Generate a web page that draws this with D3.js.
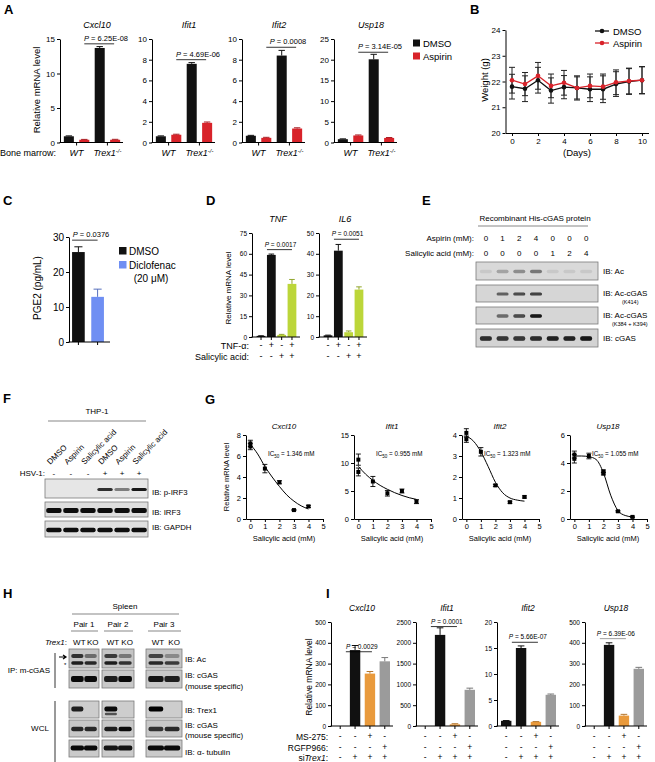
<!DOCTYPE html>
<html><head><meta charset="utf-8">
<script src="https://cdn.jsdelivr.net/npm/d3@7/dist/d3.min.js"></script>
<style>
html,body{margin:0;padding:0;background:#fff;}
svg{display:block;font-family:"Liberation Sans",Arial,Helvetica,sans-serif;}
</style></head>
<body><svg id="fig" width="655" height="762" viewBox="0 0 655 762"></svg>
<script>
// ================= DATA =================
// Panel A
const aGenes = ["Cxcl10", "Ifit1", "Ifit2", "Usp18"];
const aBarKeys = ["WT DMSO", "WT Aspirin", "Trex1 DMSO", "Trex1 Aspirin"];
const aCxcl10 = [0.9, 0.4, 13.7, 0.4];
const aCxcl10Err = [0.06, 0.05, 0.2, 0.06];
const aIfit1 = [0.6, 0.75, 7.6, 1.9];
const aIfit1Err = [0.04, 0.05, 0.12, 0.08];
const aIfit2 = [0.65, 0.45, 8.4, 1.35];
const aIfit2Err = [0.04, 0.05, 0.5, 0.07];
const aUsp18 = [0.8, 1.7, 20.1, 1.1];
const aUsp18Err = [0.08, 0.12, 1.2, 0.1];
const aYMax = [15, 10, 10, 25];
const aYStep = [5, 2, 2, 5];
const aPValues = ["6.25E-08", "4.69E-06", "0.0008", "3.14E-05"];
const aPLevel = [14.3, 8.0, 9.2, 21.8];
const aLegend = ["DMSO", "Aspirin"];

// Panel B
const bDays = [0, 1, 2, 3, 4, 5, 6, 7, 8, 9, 10];
const bDMSO = [21.8, 21.72, 22.05, 21.65, 21.78, 21.75, 21.7, 21.7, 21.9, 22.0, 22.05];
const bDMSOErr = [0.48, 0.5, 0.5, 0.49, 0.45, 0.43, 0.48, 0.52, 0.48, 0.5, 0.52];
const bAspirin = [22.05, 21.9, 22.22, 21.83, 21.95, 21.75, 21.83, 21.8, 21.97, 22.02, 22.05];
const bAspirinErr = [0.5, 0.45, 0.52, 0.46, 0.48, 0.47, 0.46, 0.49, 0.48, 0.5, 0.53];
const bYTicks = [20, 21, 22, 23, 24];
const bXTicks = [0, 2, 4, 6, 8, 10];

// Panel C
const cGroups = ["DMSO", "Diclofenac"];
const cPGE2 = [25.7, 12.9];
const cPGE2Err = [1.5, 2.2];

// Panel D
const dKeys = ["ctrl", "TNF", "SA", "TNF+SA"];
const dTNF = [0.8, 59.2, 1.5, 38.3];
const dTNFErr = [0.1, 0.6, 0.4, 3.2];
const dIL6 = [0.8, 41.5, 2.3, 22.8];
const dIL6Err = [0.1, 3.0, 0.6, 1.3];
const dTNFalpha = ["-", "+", "-", "+"];
const dSalicylic = ["-", "-", "+", "+"];
const dPValues = ["0.0017", "0.0051"];
const dPLevel = [63, 47];

// Panel E
const eAspirin = [0, 1, 2, 4, 0, 0, 0];
const eSalicylic = [0, 0, 0, 0, 1, 2, 4];
const eAc = [0.08, 0.25, 0.35, 0.45, 0.08, 0.08, 0.08];
const eK414 = [0, 0.55, 0.7, 0.75, 0, 0, 0];
const eK384 = [0, 0.5, 0.7, 0.95, 0, 0, 0];
const eCgas = [0.85, 0.8, 0.8, 0.85, 0.9, 0.9, 0.95];

// Panel F
const fLanes = ["DMSO", "Aspirin", "Salicylic acid", "DMSO", "Aspirin", "Salicylic acid"];
const fHSV = ["-", "-", "-", "+", "+", "+"];
const fPIRF3 = [0, 0, 0, 0.85, 0.45, 0.95];
const fIRF3 = [1, 1, 1, 1, 1, 1];
const fGAPDH = [1, 1, 1, 1, 1, 1];

// Panel G
const gGenes = ["Cxcl10", "Ifit1", "Ifit2", "Usp18"];
const gIC50 = ["1.346", "0.955", "1.323", "1.055"];
const gYMax = [8, 15, 4, 6];
const gYStep = [2, 5, 1, 2];
const gXTicks = [0, 1, 2, 3, 4, 5];
const gCxcl10Dose = [0, 0, 1, 2, 3, 4];
const gCxcl10Mean = [7.2, 6.9, 4.8, 3.5, 0.85, 1.2];
const gCxcl10Err = [0.3, 0.3, 0.4, 0.15, 0.05, 0.1];
const gIfit1Dose = [0, 0, 1, 2, 3, 4];
const gIfit1Mean = [10.6, 8.4, 6.7, 4.6, 5.0, 3.1];
const gIfit1Err = [1.0, 0.7, 0.9, 0.5, 0.35, 0.35];
const gIfit2Dose = [0, 0, 1, 2, 3, 4];
const gIfit2Mean = [4.1, 3.8, 3.2, 1.6, 0.8, 1.05];
const gIfit2Err = [0.2, 0.15, 0.2, 0.05, 0.05, 0.05];
const gUsp18Dose = [0, 0, 1, 2, 2, 3, 4];
const gUsp18Mean = [4.6, 4.3, 4.5, 3.4, 3.25, 0.55, 0.15];
const gUsp18Err = [0.25, 0.3, 0.2, 0.1, 0.1, 0.05, 0.05];
const gFitDose = [0, 0.5, 1, 1.5, 2, 2.5, 3, 3.5, 4];
const gCxcl10Fit = [7.1, 6.2, 5.0, 4.0, 3.1, 2.3, 1.7, 1.25, 0.95];
const gIfit1Fit = [9.4, 8.0, 6.9, 6.0, 5.3, 4.7, 4.2, 3.8, 3.5];
const gIfit2Fit = [3.95, 3.7, 3.2, 2.5, 1.75, 1.25, 1.0, 0.9, 0.85];
const gUsp18Fit = [4.5, 4.5, 4.45, 4.25, 3.3, 1.7, 0.6, 0.25, 0.15];

// Panel H
const hPairs = ["Pair 1", "Pair 2", "Pair 3"];
const hGenotypes = ["WT", "KO", "WT", "KO", "WT", "KO"];
const hAcUpper = [0.75, 0.45, 0.7, 0.4, 0.65, 0.3];
const hAcLower = [0.85, 0.8, 0.85, 0.75, 0.8, 0.7];
const hCgasIP = [0.95, 0.95, 0.85, 0.95, 0.9, 0.85];
const hTrex1 = [0.85, 0, 0.95, 0, 1.0, 0];
const hTrex1Lower = [0, 0, 0.6, 0, 0, 0];
const hCgasWCL = [0.8, 0.8, 0.85, 0.95, 0.75, 0.8];
const hTubulin = [0.95, 0.95, 0.9, 0.9, 0.95, 0.95];

// Panel I
const iGenes = ["Cxcl10", "Ifit1", "Ifit2", "Usp18"];
const iKeys = ["ctrl", "siTrex1", "siTrex1+MS-275", "siTrex1+RGFP966"];
const iCxcl10 = [0, 365, 252, 311];
const iCxcl10Err = [0, 22, 10, 18];
const iIfit1 = [0, 2190, 40, 870];
const iIfit1Err = [0, 170, 15, 40];
const iIfit2 = [1.0, 15.0, 0.8, 6.0];
const iIfit2Err = [0.05, 0.4, 0.05, 0.15];
const iUsp18 = [0, 390, 50, 275];
const iUsp18Err = [0, 10, 6, 7];
const iYMax = [500, 2500, 20, 500];
const iYStep = [100, 500, 5, 100];
const iPValues = ["0.0029", "0.0001", "5.66E-07", "6.39E-06"];
const iPLevel = [357, 2390, 16.1, 420];
const iMS275 = ["-", "-", "+", "-"];
const iRGFP966 = ["-", "-", "-", "+"];
const iSiTrex1 = ["-", "+", "+", "+"];

// ================= STYLE =================
const BLK = "#111111", RED = "#d8232a", BLUE = "#6f8ff3", GREEN = "#bcd63a", ORANGE = "#e99a3c", GRAY = "#9b9b9b";
const svg = d3.select("#fig");
const defs = svg.append("defs");
defs.append("filter").attr("id", "blur").attr("x", "-50%").attr("y", "-80%").attr("width", "200%").attr("height", "260%")
  .append("feGaussianBlur").attr("stdDeviation", 0.7);
const fmtInt = d3.format("d");

function txt(x, y, s, o = {}) {
  const t = svg.append("text").attr("x", x).attr("y", y).text(s)
    .attr("font-size", o.size || 8).attr("text-anchor", o.anchor || "start").attr("fill", o.fill || "#000");
  if (o.italic) t.attr("font-style", "italic");
  if (o.bold) t.attr("font-weight", "bold");
  if (o.rotate) t.attr("transform", `rotate(${o.rotate},${x},${y})`);
  return t;
}
function panelLetter(x, y, s) { txt(x, y, s, { size: 13, bold: true }); }
function hline(x1, x2, y, col = "#000", w = 0.8) {
  svg.append("line").attr("x1", x1).attr("x2", x2).attr("y1", y).attr("y2", y).attr("stroke", col).attr("stroke-width", w);
}
function vline(x, y1, y2, col = "#000", w = 0.8) {
  svg.append("line").attr("x1", x).attr("x2", x).attr("y1", y1).attr("y2", y2).attr("stroke", col).attr("stroke-width", w);
}
function styleAxis(sel, fs) {
  sel.attr("font-family", '"Liberation Sans",Arial,sans-serif').attr("font-size", fs);
  sel.select(".domain").attr("stroke", "#000").attr("stroke-width", 1);
  sel.selectAll(".tick line").attr("stroke", "#000").attr("stroke-width", 1);
  sel.selectAll(".tick text").attr("fill", "#000");
}
function pLabel(x, y, val, fs) {
  const t = svg.append("text").attr("x", x).attr("y", y).attr("text-anchor", "middle").attr("font-size", fs);
  t.append("tspan").attr("font-style", "italic").text("P");
  t.append("tspan").text(" = " + val);
}
function trexLabel(x, y, fs, anchor = "middle") {
  const t = svg.append("text").attr("x", x).attr("y", y).attr("text-anchor", anchor).attr("font-size", fs).attr("font-style", "italic");
  t.append("tspan").text("Trex1");
  t.append("tspan").attr("dy", -fs * 0.35).attr("font-size", fs * 0.65).text("-/-");
}

function barChart(c) {
  const g = svg.append("g");
  const x = d3.scaleBand().domain(c.keys).range([c.x0, c.x0 + c.w]).paddingInner(c.pi).paddingOuter(c.po);
  const y = d3.scaleLinear().domain([0, c.max]).range([c.yB, c.yT]);
  const bw = x.bandwidth();
  c.values.forEach((v, i) => {
    const k = c.keys[i], col = c.colors[i];
    g.append("rect").attr("x", x(k)).attr("width", bw).attr("y", y(v)).attr("height", c.yB - y(v)).attr("fill", col);
    if (c.errs && c.errs[i] > 0) {
      const cx = x(k) + bw / 2;
      const ec = col === BLK ? BLK : d3.color(col).darker(0.7).formatHex();
      const yt = y(v + c.errs[i]);
      g.append("line").attr("x1", cx).attr("x2", cx).attr("y1", y(v)).attr("y2", yt).attr("stroke", ec).attr("stroke-width", 1);
      g.append("line").attr("x1", cx - bw * 0.32).attr("x2", cx + bw * 0.32).attr("y1", yt).attr("y2", yt).attr("stroke", ec).attr("stroke-width", 1);
    }
  });
  const ay = g.append("g").attr("transform", `translate(${c.x0},0)`)
    .call(d3.axisLeft(y).tickValues(d3.range(0, c.max + 1e-9, c.step)).tickFormat(fmtInt).tickSize(3).tickSizeOuter(0).tickPadding(2));
  styleAxis(ay, c.fs);
  g.append("line").attr("x1", c.x0 - 0.5).attr("x2", c.x0 + c.axisW).attr("y1", c.yB).attr("y2", c.yB).attr("stroke", "#000").attr("stroke-width", 1);
  (c.xticks || []).forEach(t => {
    g.append("line").attr("x1", t).attr("x2", t).attr("y1", c.yB).attr("y2", c.yB + 3).attr("stroke", "#000").attr("stroke-width", 1);
  });
  return { x, y, bw };
}

// ================= PANEL A =================
panelLetter(4, 14, "A");
const aSeries = [aCxcl10, aIfit1, aIfit2, aUsp18];
const aErrs = [aCxcl10Err, aIfit1Err, aIfit2Err, aUsp18Err];
const aX0 = [60, 152, 242, 334];
aGenes.forEach((gene, i) => {
  const x0 = aX0[i];
  const tmp = d3.scaleBand().domain(aBarKeys).range([x0, x0 + 64]).paddingInner(0.35).paddingOuter(0.25);
  const bw = tmp.bandwidth();
  const gc = [(tmp(aBarKeys[0]) + tmp(aBarKeys[1]) + bw) / 2, (tmp(aBarKeys[2]) + tmp(aBarKeys[3]) + bw) / 2];
  const c = barChart({ x0, w: 64, axisW: 63, yB: 142.5, yT: 39, max: aYMax[i], step: aYStep[i], keys: aBarKeys,
    values: aSeries[i], errs: aErrs[i], colors: [BLK, RED, BLK, RED], pi: 0.35, po: 0.25, fs: 8, xticks: gc });
  txt(x0 + 37, 28, gene, { size: 9, italic: true, anchor: "middle" });
  const ly = c.y(aPLevel[i]);
  const lx1 = c.x(aBarKeys[1]) + bw * 0.5, lx2 = c.x(aBarKeys[3]) + bw * 0.4;
  hline(lx1, lx2, ly, "#000", 0.8);
  pLabel(x0 + 46, ly - 3, aPValues[i], 7.5);
  txt(gc[0], 156, "WT", { size: 9, italic: true, anchor: "middle" });
  trexLabel(gc[1], 156, 9);
});
txt(0, 156, "Bone marrow:", { size: 9 });
txt(40, 90, "Relative mRNA level", { size: 9.5, anchor: "middle", rotate: -90 });
svg.append("rect").attr("x", 413).attr("y", 39.5).attr("width", 7).attr("height", 7).attr("fill", BLK);
svg.append("rect").attr("x", 413).attr("y", 52.5).attr("width", 7).attr("height", 7).attr("fill", RED);
txt(423, 47, aLegend[0], { size: 9.5 });
txt(423, 60, aLegend[1], { size: 9.5 });

// ================= PANEL B =================
panelLetter(470, 14, "B");
{
  const bx = d3.scaleLinear().domain([-0.5, 10.5]).range([505.5, 648.5]);
  const by = d3.scaleLinear().domain([20, 24]).range([133, 30]);
  const ax = svg.append("g").attr("transform", "translate(0,133)")
    .call(d3.axisBottom(bx).tickValues(bXTicks).tickFormat(fmtInt).tickSize(3).tickSizeOuter(0).tickPadding(2));
  styleAxis(ax, 8);
  const ay = svg.append("g").attr("transform", "translate(505.5,0)")
    .call(d3.axisLeft(by).tickValues(bYTicks).tickFormat(fmtInt).tickSize(3).tickSizeOuter(0).tickPadding(2));
  styleAxis(ay, 8);
  const series = [[bDMSO, bDMSOErr, BLK], [bAspirin, bAspirinErr, RED]];
  series.forEach(([vals, errs, col]) => {
    const g = svg.append("g");
    bDays.forEach((d, i) => {
      const cx = bx(d);
      g.append("line").attr("x1", cx).attr("x2", cx).attr("y1", by(vals[i] - errs[i])).attr("y2", by(vals[i] + errs[i])).attr("stroke", "#222").attr("stroke-width", 1);
      [vals[i] - errs[i], vals[i] + errs[i]].forEach(v => {
        g.append("line").attr("x1", cx - 3).attr("x2", cx + 3).attr("y1", by(v)).attr("y2", by(v)).attr("stroke", "#222").attr("stroke-width", 1);
      });
    });
  });
  series.forEach(([vals, errs, col]) => {
    svg.append("path").datum(bDays.map((d, i) => [d, vals[i]]))
      .attr("d", d3.line().x(d => bx(d[0])).y(d => by(d[1])))
      .attr("fill", "none").attr("stroke", col).attr("stroke-width", 1.3);
    svg.append("g").selectAll("circle").data(bDays.map((d, i) => [d, vals[i]])).join("circle")
      .attr("cx", d => bx(d[0])).attr("cy", d => by(d[1])).attr("r", 2.3).attr("fill", col);
  });
  txt(577, 156, "(Days)", { size: 9.5, anchor: "middle" });
  txt(488, 80, "Weight (g)", { size: 9.5, anchor: "middle", rotate: -90 });
  [["DMSO", BLK, 31], ["Aspirin", RED, 43]].forEach(([lab, col, yy]) => {
    hline(595, 609, yy, col, 1.3);
    svg.append("circle").attr("cx", 602).attr("cy", yy).attr("r", 2.3).attr("fill", col);
    txt(613, yy + 3.5, lab, { size: 9.5 });
  });
}

// ================= PANEL C =================
panelLetter(3, 205, "C");
{
  const c = barChart({ x0: 69, w: 38, axisW: 41, yB: 342, yT: 237, max: 30, step: 10, keys: cGroups,
    values: cPGE2, errs: cPGE2Err, colors: [BLK, BLUE], pi: 0.34, po: 0.16, fs: 10 });
  cGroups.forEach(k => {
    const cx = c.x(k) + c.bw / 2;
    svg.append("line").attr("x1", cx).attr("x2", cx).attr("y1", 342).attr("y2", 345).attr("stroke", "#000");
  });
  const ly = c.y(29.1);
  hline(c.x(cGroups[0]), c.x(cGroups[1]) + c.bw / 2, ly);
  pLabel(91, ly - 3, "0.0376", 7.5);
  txt(41, 288, "PGE2 (pg/mL)", { size: 10, anchor: "middle", rotate: -90 });
  svg.append("rect").attr("x", 119).attr("y", 247).attr("width", 7.5).attr("height", 7.5).attr("fill", BLK);
  svg.append("rect").attr("x", 119).attr("y", 261).attr("width", 7.5).attr("height", 7.5).attr("fill", BLUE);
  txt(129, 255, cGroups[0], { size: 10 });
  txt(129, 269, cGroups[1], { size: 10 });
  txt(151, 282, "(20 μM)", { size: 10, anchor: "middle" });
}

// ================= PANEL D =================
panelLetter(206, 205, "D");
{
  const dSets = [[dTNF, dTNFErr, 75, 15, 252, "TNF"], [dIL6, dIL6Err, 50, 10, 319, "IL6"]];
  dSets.forEach(([vals, errs, max, step, x0, title], j) => {
    const c = barChart({ x0, w: 49, axisW: 48, yB: 337, yT: 233, max, step, keys: dKeys,
      values: vals, errs, colors: [BLK, BLK, GREEN, GREEN], pi: 0.15, po: 0.45, fs: 6.5 });
    const centers = dKeys.map(k => c.x(k) + c.bw / 2);
    centers.forEach(cx => svg.append("line").attr("x1", cx).attr("x2", cx).attr("y1", 337).attr("y2", 340).attr("stroke", "#000"));
    centers.forEach((cx, i) => {
      txt(cx, 348, dTNFalpha[i], { size: 9, anchor: "middle" });
      txt(cx, 359, dSalicylic[i], { size: 9, anchor: "middle" });
    });
    txt(x0 + 26, 222, title, { size: 9, italic: true, anchor: "middle" });
    const ly = c.y(dPLevel[j]);
    hline(c.x(dKeys[1]), centers[3], ly);
    pLabel((c.x(dKeys[1]) + centers[3]) / 2 + 1, ly - 3, dPValues[j], 6.5);
  });
  txt(249, 349, "TNF-α:", { size: 9, anchor: "end" });
  txt(249, 360, "Salicylic acid:", { size: 9, anchor: "end" });
  txt(231, 288, "Relative mRNA level", { size: 8, anchor: "middle", rotate: -90 });
}

// ================= BLOT HELPERS =================
function blotBox(x1, y1, x2, y2, bg) {
  svg.append("rect").attr("x", x1).attr("y", y1).attr("width", x2 - x1).attr("height", y2 - y1)
    .attr("fill", bg).attr("stroke", "#7a7a7a").attr("stroke-width", 0.8);
}
function bands(lane, cy, values, bh, wf, dark = 10) {
  values.forEach((v, i) => {
    if (v <= 0) return;
    const w = lane.bandwidth() * wf;
    const cx = lane(i) + lane.bandwidth() / 2;
    svg.append("rect").attr("x", cx - w / 2).attr("y", cy - bh / 2).attr("width", w).attr("height", bh)
      .attr("rx", Math.min(bh / 2, 2)).attr("fill", `rgb(${dark},${dark},${dark})`).attr("fill-opacity", v).attr("filter", "url(#blur)");
  });
}

// ================= PANEL E =================
panelLetter(422, 205, "E");
{
  const lane = d3.scaleBand().domain(d3.range(7)).range([477, 595]).paddingInner(0).paddingOuter(0.03);
  txt(535, 221, "Recombinant His-cGAS protein", { size: 8, anchor: "middle" });
  hline(478, 588, 226, "#555", 0.7);
  txt(474, 241, "Aspirin (mM):", { size: 8, anchor: "end" });
  txt(474, 256, "Salicylic acid (mM):", { size: 8, anchor: "end" });
  eAspirin.forEach((v, i) => txt(lane(i) + lane.bandwidth() / 2, 241, String(v), { size: 8, anchor: "middle" }));
  eSalicylic.forEach((v, i) => txt(lane(i) + lane.bandwidth() / 2, 256, String(v), { size: 8, anchor: "middle" }));
  const rows = [[262, 280, eAc, 3.5, "#d9d9d9"], [285, 302, eK414, 3, "#d6d6d6"], [307, 324, eK384, 3.4, "#d6d6d6"], [329, 347, eCgas, 4.5, "#d3d3d3"]];
  rows.forEach(([y1, y2, vals, bh, bg]) => {
    blotBox(476, y1, 598, y2, bg);
    bands(lane, (y1 + y2) / 2 + 0.5, vals, bh, 0.72);
  });
  txt(603, 274, "IB: Ac", { size: 8 });
  txt(603, 296, "IB: Ac-cGAS", { size: 8 });
  txt(622, 304, "(K414)", { size: 5.5 });
  txt(603, 318, "IB: Ac-cGAS", { size: 8 });
  txt(612, 326, "(K384 + K394)", { size: 5.5 });
  txt(603, 341, "IB: cGAS", { size: 8 });
}

// ================= PANEL F =================
panelLetter(3, 403, "F");
{
  const lane = d3.scaleBand().domain(d3.range(6)).range([45, 148]).paddingInner(0).paddingOuter(0.02);
  txt(97, 414, "THP-1", { size: 8, anchor: "middle" });
  hline(48, 146, 421, "#555", 0.7);
  fLanes.forEach((s, i) => txt(lane(i) + lane.bandwidth() / 2 - 3.5, 465, s, { size: 8, rotate: -45 }));
  txt(45, 476, "HSV-1:", { size: 8, anchor: "end" });
  fHSV.forEach((s, i) => txt(lane(i) + lane.bandwidth() / 2, 476, s, { size: 8, anchor: "middle" }));
  const rows = [[479, 498, fPIRF3, 3.2, "#e6e6e6", 495, "IB: p-IRF3"], [502, 517, fIRF3, 5, "#dedede", 515, "IB: IRF3"], [521, 537, fGAPDH, 4.5, "#e0e0e0", 530, "IB: GAPDH"]];
  rows.forEach(([y1, y2, vals, bh, bg, ty, lab]) => {
    blotBox(45, y1, 148, y2, bg);
    bands(lane, (y1 + y2) / 2 + 1, vals, bh, 0.9);
    txt(152, ty, lab, { size: 7.8 });
  });
}

// ================= PANEL G =================
panelLetter(205, 404, "G");
{
  const gX0 = [246, 354, 462, 570];
  const gSets = [[gCxcl10Dose, gCxcl10Mean, gCxcl10Err, gCxcl10Fit], [gIfit1Dose, gIfit1Mean, gIfit1Err, gIfit1Fit],
    [gIfit2Dose, gIfit2Mean, gIfit2Err, gIfit2Fit], [gUsp18Dose, gUsp18Mean, gUsp18Err, gUsp18Fit]];
  gGenes.forEach((gene, i) => {
    const x0 = gX0[i];
    const x = d3.scaleLinear().domain([-0.3, 5]).range([x0, x0 + 77]);
    const y = d3.scaleLinear().domain([0, gYMax[i]]).range([519, 435]);
    const ax = svg.append("g").attr("transform", "translate(0,519)")
      .call(d3.axisBottom(x).tickValues(gXTicks).tickFormat(fmtInt).tickSize(3).tickSizeOuter(0).tickPadding(2));
    styleAxis(ax, 7.5);
    const ay = svg.append("g").attr("transform", `translate(${x0},0)`)
      .call(d3.axisLeft(y).tickValues(d3.range(0, gYMax[i] + 1e-9, gYStep[i])).tickFormat(fmtInt).tickSize(3).tickSizeOuter(0).tickPadding(2));
    styleAxis(ay, 7.5);
    const [dose, mean, err, fit] = gSets[i];
    svg.append("path").datum(gFitDose.map((d, k) => [d, fit[k]]))
      .attr("d", d3.line().x(d => x(d[0])).y(d => y(d[1])).curve(d3.curveMonotoneX))
      .attr("fill", "none").attr("stroke", "#000").attr("stroke-width", 1);
    dose.forEach((d, k) => {
      const cx = x(d);
      vline(cx, y(mean[k] - err[k]), y(mean[k] + err[k]), "#000", 0.9);
      hline(cx - 2.5, cx + 2.5, y(mean[k] - err[k]), "#000", 0.9);
      hline(cx - 2.5, cx + 2.5, y(mean[k] + err[k]), "#000", 0.9);
      svg.append("rect").attr("x", cx - 2).attr("y", y(mean[k]) - 2).attr("width", 4).attr("height", 4).attr("fill", "#000");
    });
    txt(x0 + 38, 429, gene, { size: 8, italic: true, anchor: "middle" });
    txt(x0 + 38, 541, "Salicylic acid (mM)", { size: 7.5, anchor: "middle" });
    const t = svg.append("text").attr("x", x0 + 22).attr("y", 456).attr("font-size", 6.3);
    t.append("tspan").text("IC");
    t.append("tspan").attr("dy", 1.5).attr("font-size", 4.5).text("50");
    t.append("tspan").attr("dy", -1.5).text(" = " + gIC50[i] + " mM");
  });
  txt(229, 477, "Relative mRNA level", { size: 7.5, anchor: "middle", rotate: -90 });
}

// ================= PANEL H =================
panelLetter(3, 598, "H");
{
  const boxes = [[69, 99], [102, 134], [146, 182]];
  txt(125, 609, "Spleen", { size: 8, anchor: "middle" });
  hline(72, 179, 614, "#555", 0.7);
  hPairs.forEach((p, j) => {
    const [a, b] = boxes[j];
    txt((a + b) / 2, 627, p, { size: 8, anchor: "middle" });
    hline(a + 2, b - 1, 631, "#555", 0.7);
  });
  const tl = svg.append("text").attr("x", 67).attr("y", 645).attr("text-anchor", "end").attr("font-size", 8);
  tl.append("tspan").attr("font-style", "italic").text("Trex1");
  tl.append("tspan").text(":");
  const lanes = boxes.map(([a, b]) => d3.scaleBand().domain([0, 1]).range([a + 1, b - 1]).paddingOuter(0.05));
  hGenotypes.forEach((gt, i) => {
    const L = lanes[Math.floor(i / 2)];
    txt(L(i % 2) + L.bandwidth() / 2 + 2, 645, gt, { size: 8, anchor: "middle" });
  });
  const rows = [[649, 668, "#c4c4c4"], [670, 688, "#c8c8c8"], [701, 718, "#cdcdcd"], [720, 737, "#c8c8c8"], [740, 757, "#cacaca"]];
  rows.forEach(([y1, y2, bg]) => boxes.forEach(([a, b]) => blotBox(a, y1, b, y2, bg)));
  function hb(vals, cy, bh, wf) {
    boxes.forEach((bx, j) => bands(lanes[j], cy, vals.slice(j * 2, j * 2 + 2), bh, wf, 5));
  }
  hb(hAcUpper, 656, 3.8, 0.92);
  hb(hAcLower, 663, 3.4, 0.92);
  hb(hCgasIP, 679, 6, 0.95);
  hb(hTrex1, 709, 5, 0.9);
  hb(hTrex1Lower, 714, 2.5, 0.85);
  hb(hCgasWCL, 729, 4.4, 0.92);
  hb(hTubulin, 748, 5, 1.0);
  txt(185, 662, "IB: Ac", { size: 8 });
  txt(185, 678, "IB: cGAS", { size: 8 });
  txt(185, 689, "(mouse specific)", { size: 8 });
  txt(185, 713, "IB: Trex1", { size: 8 });
  txt(185, 728, "IB: cGAS", { size: 8 });
  txt(185, 738, "(mouse specific)", { size: 8 });
  txt(185, 755, "IB: α- tubulin", { size: 8 });
  txt(50, 673, "IP: m-cGAS", { size: 8, anchor: "end" });
  vline(55, 653, 688, "#000", 0.8);
  txt(40, 731, "WCL", { size: 8, anchor: "middle" });
  vline(55, 701, 762, "#000", 0.8);
  svg.append("path").attr("d", "M59,657 L65,657 M63,655 L66,657 L63,659").attr("stroke", "#000").attr("stroke-width", 1.2).attr("fill", "none");
  txt(64, 667, "*", { size: 6 });
}

// ================= PANEL I =================
panelLetter(326, 598, "I");
{
  const iX0 = [331, 416, 497, 585];
  const iSeries = [iCxcl10, iIfit1, iIfit2, iUsp18];
  const iErrs = [iCxcl10Err, iIfit1Err, iIfit2Err, iUsp18Err];
  iGenes.forEach((gene, i) => {
    const x0 = iX0[i];
    const c = barChart({ x0, w: 63, axisW: 62, yB: 726, yT: 622, max: iYMax[i], step: iYStep[i], keys: iKeys,
      values: iSeries[i], errs: iErrs[i], colors: [BLK, BLK, ORANGE, GRAY], pi: 0.3, po: 0.27, fs: 6.5 });
    const centers = iKeys.map(k => c.x(k) + c.bw / 2);
    centers.forEach((cx, k) => {
      svg.append("line").attr("x1", cx).attr("x2", cx).attr("y1", 726).attr("y2", 729).attr("stroke", "#000");
      txt(cx, 739, iMS275[k], { size: 8.5, anchor: "middle" });
      txt(cx, 750, iRGFP966[k], { size: 8.5, anchor: "middle" });
      txt(cx, 760, iSiTrex1[k], { size: 8.5, anchor: "middle" });
    });
    txt(x0 + 31, 611, gene, { size: 8.5, italic: true, anchor: "middle" });
    const ly = c.y(iPLevel[i]);
    const lx1 = c.x(iKeys[1]) - 4, lx2 = centers[2] + 2;
    hline(lx1, lx2, ly, i === 3 ? "#888" : "#000", 0.8);
    pLabel((lx1 + lx2) / 2 + 3, ly - 3, iPValues[i], 6.5);
  });
  txt(312, 677, "Relative mRNA level", { size: 8.5, anchor: "middle", rotate: -90 });
  txt(328, 740, "MS-275:", { size: 8.5, anchor: "end" });
  txt(328, 751, "RGFP966:", { size: 8.5, anchor: "end" });
  const si = svg.append("text").attr("x", 328).attr("y", 761).attr("text-anchor", "end").attr("font-size", 8.5);
  si.append("tspan").text("si");
  si.append("tspan").attr("font-style", "italic").text("Trex1");
  si.append("tspan").text(":");
}
</script></body></html>
